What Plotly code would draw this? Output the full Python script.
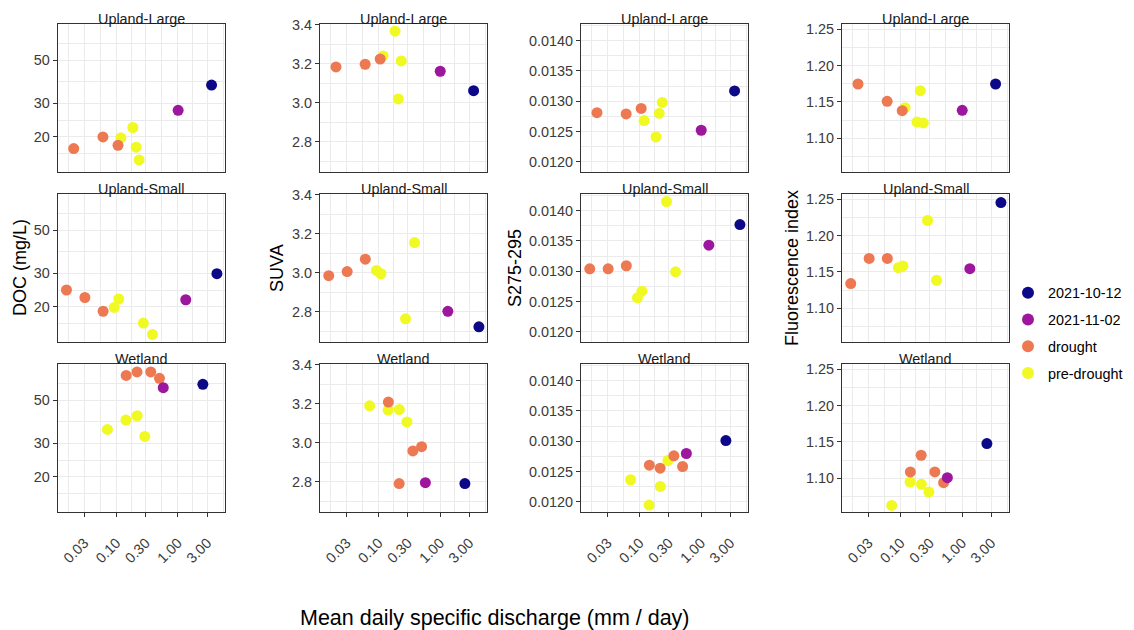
import plotly.graph_objects as go

W, H = 1134, 630

sites = ["Upland-Large", "Upland-Small", "Wetland"]
legend_order = ["2021-10-12", "2021-11-02", "drought", "pre-drought"]
draw_order = ["pre-drought", "drought", "2021-11-02", "2021-10-12"]
group_colors = ["#0D0887", "#9C179E", "#ED7953", "#F0F921"]

# ---- Upland-Large ----
ul_group = ["drought", "drought", "drought", "pre-drought", "pre-drought", "pre-drought", "pre-drought", "2021-11-02", "2021-10-12"]
ul_q = [0.0202, 0.0603, 0.106, 0.118, 0.185, 0.209, 0.234, 1.007, 3.52]
ul_doc = [17.4, 20.0, 18.1, 19.8, 22.4, 17.7, 15.2, 27.5, 37.2]
ul_suva = [3.184, 3.198, 3.225, 3.241, 3.368, 3.020, 3.215, 3.162, 3.062]
ul_s275 = [0.01281, 0.01279, 0.01288, 0.01268, 0.01241, 0.01280, 0.01298, 0.01252, 0.01317]
ul_fi = [1.1747, 1.1509, 1.1380, 1.1421, 1.1224, 1.1655, 1.1211, 1.1385, 1.1747]

# ---- Upland-Small ----
us_group = ["drought", "drought", "drought", "pre-drought", "pre-drought", "pre-drought", "pre-drought", "2021-11-02", "2021-10-12"]
us_q = [0.0154, 0.0307, 0.0607, 0.092, 0.109, 0.274, 0.385, 1.34, 4.30]
us_doc = [24.5, 22.4, 19.0, 19.9, 22.0, 16.5, 14.4, 21.8, 29.8]
us_suva = [2.985, 3.006, 3.070, 3.012, 2.995, 2.763, 3.155, 2.802, 2.722]
us_s275 = [0.01304, 0.01304, 0.01309, 0.01256, 0.01267, 0.01415, 0.01299, 0.01343, 0.01377]
us_fi = [1.134, 1.1686, 1.1686, 1.1559, 1.1582, 1.2209, 1.1386, 1.1545, 1.2455]

# ---- Wetland ----
wl_group = ["drought", "drought", "drought", "drought", "pre-drought", "pre-drought", "pre-drought", "pre-drought", "2021-11-02", "2021-10-12"]
wl_q = [0.144, 0.216, 0.361, 0.501, 0.0714, 0.1426, 0.2173, 0.289, 0.577, 2.54]
wl_doc = [67.4, 70.3, 70.3, 65.1, 35.3, 39.5, 41.6, 32.5, 58.2, 60.6]
wl_suva = [3.209, 2.790, 2.958, 2.980, 3.190, 3.168, 3.171, 3.107, 2.795, 2.790]
wl_s275 = [0.012604, 0.012555, 0.012758, 0.012582, 0.012363, 0.011945, 0.012253, 0.012681, 0.012797, 0.013011]
wl_fi = [1.1087, 1.1317, 1.1087, 1.0940, 1.0627, 1.0949, 1.0917, 1.0811, 1.1009, 1.1478]

# ---- axis ticks ----
x_ticks = [0.03, 0.1, 0.3, 1, 3]
x_ticktext = ["0.03", "0.10", "0.30", "1.00", "3.00"]
x_minor = [0.01644, 0.05477, 0.1732, 0.5477, 1.732, 5.477]

doc_ticks = [20, 30, 50]
doc_minor = [16.33, 24.49, 38.73, 61.24]
suva_ticks = [2.8, 3.0, 3.2, 3.4]
suva_minor = [2.7, 2.9, 3.1, 3.3]
s275_ticks = [0.0120, 0.0125, 0.0130, 0.0135, 0.0140]
s275_minor = [0.01225, 0.01275, 0.01325, 0.01375, 0.01425]
fi_ticks = [1.10, 1.15, 1.20, 1.25]
fi_minor = [1.075, 1.125, 1.175, 1.225]

var_titles = ["DOC (mg/L)", "SUVA", "S275-295", "Fluorescence index"]

site_data = [
    (ul_group, ul_q, [ul_doc, ul_suva, ul_s275, ul_fi]),
    (us_group, us_q, [us_doc, us_suva, us_s275, us_fi]),
    (wl_group, wl_q, [wl_doc, wl_suva, wl_s275, wl_fi]),
]

# layout geometry (pixels)
col_px = [(57.7, 225), (320, 487), (581, 748), (842, 1009)]
row_px = [(24, 172), (194, 342), (364, 512)]
y_specs = [
    dict(type="log", range=[1.119, 1.888], tickvals=doc_ticks, ticktext=[str(v) for v in doc_ticks], minor=doc_minor),
    dict(type="linear", range=[2.644, 3.405], tickvals=suva_ticks, ticktext=[f"{v:.1f}" for v in suva_ticks], minor=suva_minor),
    dict(type="linear", range=[0.01183, 0.014276], tickvals=s275_ticks, ticktext=[f"{v:.4f}" for v in s275_ticks], minor=s275_minor),
    dict(type="linear", range=[1.0536, 1.2573], tickvals=fi_ticks, ticktext=[f"{v:.2f}" for v in fi_ticks], minor=fi_minor),
]

FONT = "Liberation Sans, Arial, sans-serif"
GRID = "#EBEBEB"
BORDER = "#333333"
TICKCOL = "#3A3A3A"

fig = go.Figure()
layout = {}
annotations = []

for r, (grp, q, vals) in enumerate(site_data):
    for c in range(4):
        k = r * 4 + c + 1
        xa = "x" if k == 1 else f"x{k}"
        ya = "y" if k == 1 else f"y{k}"
        for g in draw_order:
            idx = [i for i, gg in enumerate(grp) if gg == g]
            if not idx:
                continue
            color = group_colors[legend_order.index(g)]
            fig.add_trace(go.Scatter(
                x=[q[i] for i in idx], y=[vals[c][i] for i in idx],
                mode="markers", name=g, legendgroup=g,
                legendrank=legend_order.index(g) + 1,
                showlegend=(k == 1),
                marker=dict(color=color, size=11, line=dict(width=0)),
                xaxis=xa, yaxis=ya, cliponaxis=False, hoverinfo="skip",
            ))
        x0, x1 = col_px[c]
        y0, y1 = row_px[r]
        bottom = (r == 2)
        layout[f"xaxis{'' if k == 1 else k}"] = dict(
            domain=[x0 / W, x1 / W], anchor=ya, type="log",
            range=[-1.955, 0.765],
            tickvals=x_ticks, ticktext=x_ticktext,
            showticklabels=bottom, ticks="outside" if bottom else "",
            ticklen=4, tickcolor=BORDER, tickangle=-45,
            ticklabelstandoff=12,
            tickfont=dict(size=14.4, color=TICKCOL, family=FONT),
            showgrid=True, gridcolor=GRID, gridwidth=1.1,
            minor=dict(tickvals=x_minor, showgrid=True, gridcolor=GRID, gridwidth=0.6, ticks=""),
            showline=True, mirror=True, linecolor=BORDER, linewidth=1,
            zeroline=False, fixedrange=True, automargin=False,
        )
        spec = y_specs[c]
        layout[f"yaxis{'' if k == 1 else k}"] = dict(
            domain=[1 - y1 / H, 1 - y0 / H], anchor=xa, type=spec["type"],
            range=spec["range"], tickvals=spec["tickvals"], ticktext=spec["ticktext"],
            ticks="outside", ticklen=4, tickcolor=BORDER,
            tickfont=dict(size=14.4, color=TICKCOL, family=FONT),
            showgrid=True, gridcolor=GRID, gridwidth=1.1,
            minor=dict(tickvals=spec["minor"], showgrid=True, gridcolor=GRID, gridwidth=0.6, ticks=""),
            showline=True, mirror=True, linecolor=BORDER, linewidth=1,
            zeroline=False, fixedrange=True, automargin=False,
        )
        annotations.append(dict(
            text=sites[r], x=(x0 + x1) / 2 / W, y=1 - (y0 - 5.5) / H,
            xref="paper", yref="paper", showarrow=False,
            xanchor="center", yanchor="middle",
            font=dict(size=14.4, color="#1A1A1A", family=FONT),
        ))

ytitle_x = [20, 277, 515, 792]
for c in range(4):
    annotations.append(dict(
        text=var_titles[c], x=ytitle_x[c] / W, y=1 - 268 / H,
        xref="paper", yref="paper", showarrow=False, textangle=-90,
        xanchor="center", yanchor="middle",
        font=dict(size=18, color="black", family=FONT),
    ))
annotations.append(dict(
    text="Mean daily specific discharge (mm / day)", x=494.5 / W, y=1 - 618 / H,
    xref="paper", yref="paper", showarrow=False, xanchor="center", yanchor="middle",
    font=dict(size=21.5, color="black", family=FONT),
))

fig.update_layout(
    width=W, height=H, margin=dict(l=0, r=0, t=0, b=0, pad=0, autoexpand=False),
    paper_bgcolor="white", plot_bgcolor="white",
    font=dict(family=FONT),
    showlegend=True,
    legend=dict(x=1008 / W, y=1 - 277 / H, xanchor="left", yanchor="top",
                traceorder="grouped", tracegroupgap=5,
                font=dict(size=14.4, color="black", family=FONT),
                bgcolor="rgba(0,0,0,0)", itemsizing="constant"),
    annotations=annotations,
    **layout,
)

fig.write_html("out.html")
